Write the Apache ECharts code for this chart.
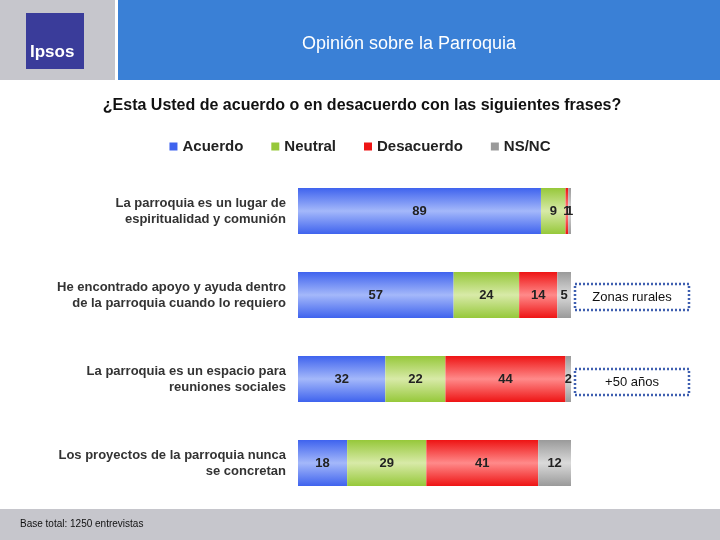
<!DOCTYPE html><html><head><meta charset="utf-8"><script src="https://cdn.jsdelivr.net/npm/echarts@6/dist/echarts.min.js"></script>
<style>body{margin:0}#c{width:720px;height:540px}</style></head><body><div id="c"></div><script>
const categories=["La parroquia es un lugar de\nespiritualidad y comunión","He encontrado apoyo y ayuda dentro\nde la parroquia cuando lo requiero","La parroquia es un espacio para\nreuniones sociales","Los proyectos de la parroquia nunca\nse concretan"];
const acuerdo=[89,57,32,18];
const neutral=[9,24,22,29];
const desacuerdo=[1,14,44,41];
const nsnc=[1,5,2,12];
const names=["Acuerdo","Neutral","Desacuerdo","NS/NC"];
const cols=[["#3f63ee","#a4b8fa"],["#96c83a","#d8eaa8"],["#ee1414","#ff8a8a"],["#9a9a9a","#dadada"]];
function grad(c){return {type:'linear',x:0,y:0,x2:0,y2:1,colorStops:[{offset:0,color:c[0]},{offset:0.5,color:c[1]},{offset:1,color:c[0]}]};}
const data=[acuerdo,neutral,desacuerdo,nsnc];
const ch=echarts.init(document.getElementById('c'));
ch.setOption({
 animation:false,
 legend:{top:134,left:'center',itemWidth:8,itemHeight:8,itemGap:28,icon:'rect',textStyle:{fontFamily:'Liberation Sans',fontWeight:'bold',fontSize:15,color:'#222'},data:names.map((n,i)=>({name:n,itemStyle:{color:cols[i][0]}}))},
 grid:{left:298,width:273,top:169,height:336},
 xAxis:{type:'value',min:0,max:100,show:false},
 yAxis:{type:'category',inverse:true,data:categories,axisLine:{show:false},axisTick:{show:false},axisLabel:{align:'right',margin:12,fontFamily:'Liberation Sans',fontWeight:'bold',fontSize:13,color:'#333',lineHeight:16}},
 series:data.map((d,i)=>({name:names[i],type:'bar',stack:'a',barWidth:46,data:d,itemStyle:{color:grad(cols[i])},
  label:{show:true,position:'inside',fontFamily:'Liberation Sans',fontWeight:'bold',fontSize:13,color:'#222',formatter:p=>p.value}})),
 graphic:[
  {type:'rect',shape:{x:0,y:0,width:115,height:80},style:{fill:'#c6c6cc'}},
  {type:'rect',shape:{x:118,y:0,width:602,height:80},style:{fill:'#3a80d6'}},
  {type:'rect',shape:{x:26,y:13,width:58,height:56},style:{fill:'#3a3c9a'}},
  {type:'text',x:30,y:44,style:{text:'Ipsos',fill:'#fff',font:'bold 17px Liberation Sans'}},
  {type:'text',x:409,y:44,style:{text:'Opinión sobre la Parroquia',fill:'#fff',font:'18px Liberation Sans',textAlign:'center',textVerticalAlign:'middle'}},
  {type:'text',x:362,y:106,style:{text:'¿Esta Usted de acuerdo o en desacuerdo con las siguientes frases?',fill:'#111',font:'bold 16px Liberation Sans',textAlign:'center',textVerticalAlign:'middle'}},
  {type:'rect',shape:{x:0,y:509,width:720,height:31},style:{fill:'#c6c6cc'}},
  {type:'text',x:20,y:524,style:{text:'Base total: 1250 entrevistas',fill:'#111',font:'10px Liberation Sans',textVerticalAlign:'middle'}},
  {type:'rect',shape:{x:575,y:284,width:114,height:26},style:{fill:'#fff',stroke:'#3f5fb0',lineWidth:2.5,lineDash:[2,2]}},
  {type:'text',x:632,y:297,style:{text:'Zonas rurales',fill:'#111',font:'13px Liberation Sans',textAlign:'center',textVerticalAlign:'middle'}},
  {type:'rect',shape:{x:575,y:369,width:114,height:26},style:{fill:'#fff',stroke:'#3f5fb0',lineWidth:2.5,lineDash:[2,2]}},
  {type:'text',x:632,y:382,style:{text:'+50 años',fill:'#111',font:'13px Liberation Sans',textAlign:'center',textVerticalAlign:'middle'}}
 ]
});
</script></body></html>
